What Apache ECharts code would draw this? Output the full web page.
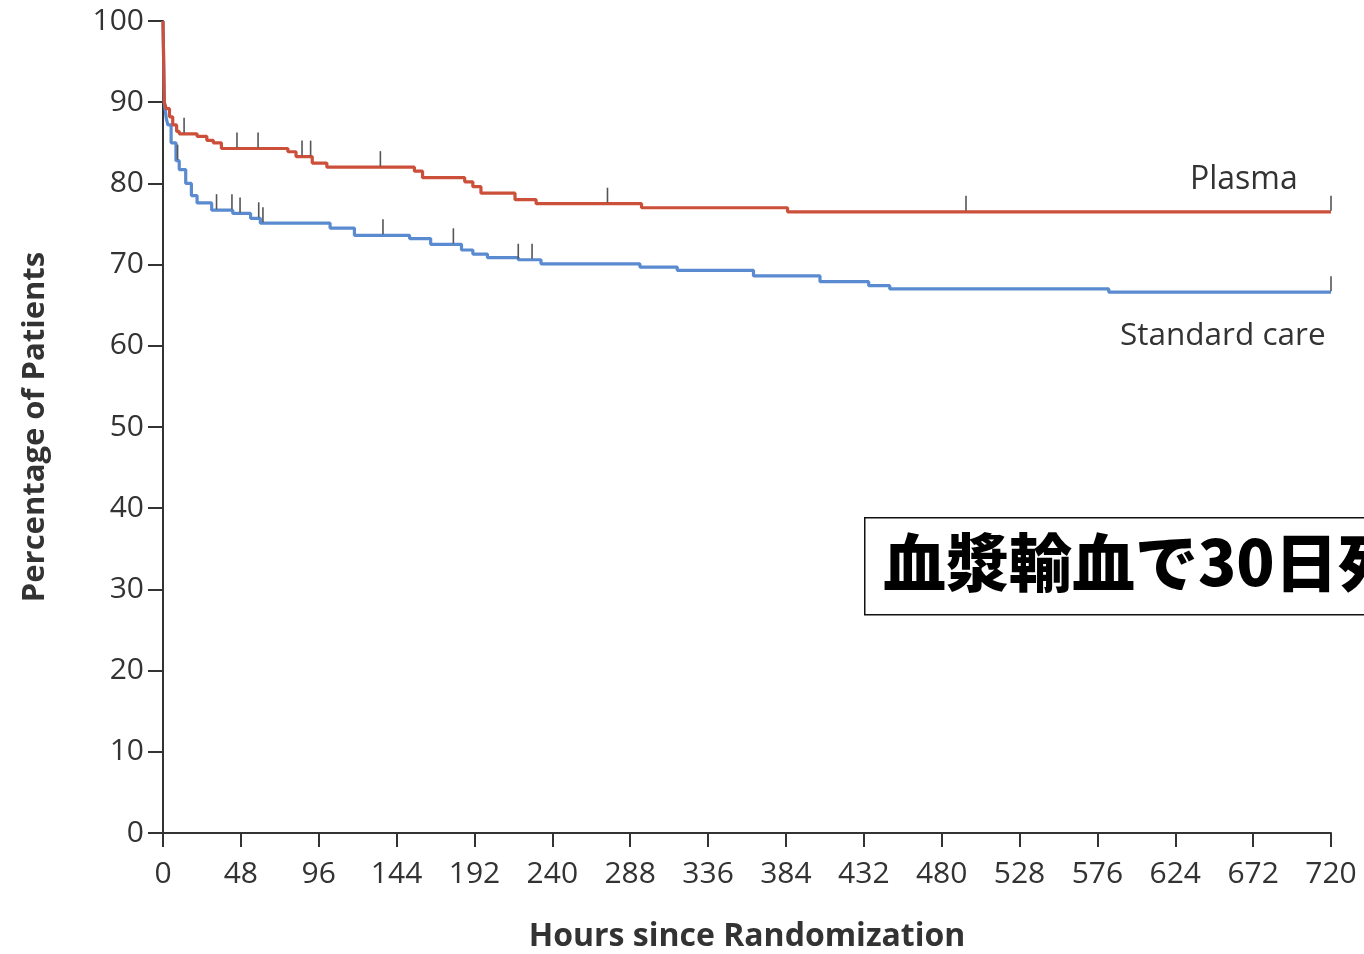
<!DOCTYPE html>
<html><head><meta charset="utf-8">
<script src="https://cdn.jsdelivr.net/npm/echarts@6/dist/echarts.min.js"></script>
<style>html,body{margin:0;padding:0;background:#fff}#c{width:1364px;height:954px}</style>
</head><body><div id="c"></div>
<script>
// ---- data ----
const xTicks = [0,48,96,144,192,240,288,336,384,432,480,528,576,624,672,720];
const yTicks = [0,10,20,30,40,50,60,70,80,90,100];

const plasmaT = [0,0.8,2,4,6,8.4,10,21,27,31,36,77,82,92,101,155,160,186,191,196,217,230,295,385,720];
const plasmaV = [100,90,89.2,88.2,87.2,86.4,86.1,85.8,85.3,85.0,84.3,83.9,83.3,82.5,82.0,81.5,80.7,80.2,79.6,78.8,78.0,77.5,77.0,76.5,76.5];

const standardT = [0,0.8,2,3,5,8,10,14,17.5,21,30,43,54,60,103,118,152,165,184,191,200,219,233,294,317,364,405,435,448,583,720];
const standardV = [100,90,88.0,87.2,85.0,82.8,81.7,80.0,78.5,77.6,76.7,76.3,75.7,75.1,74.5,73.6,73.2,72.5,71.8,71.3,70.85,70.6,70.1,69.7,69.3,68.6,67.9,67.4,67.0,66.6,66.6];

const plasmaCensor = [13,45.6,58.6,85.7,91,134,274,495,720];
const standardCensor = [9,33,42.5,47.5,59,61.6,135.6,179,219,227.5,720];

const seriesNames = ['Plasma','Standard care'];
const xTitle = 'Hours since Randomization';
const yTitle = 'Percentage of Patients';
const boxText = '血漿輸血で30日死亡率が低下';

// ---- helpers ----
function pairs(t, v){ return t.map((x,i)=>[x, v[i]]); }
function stepAt(t, v, x){ let y = v[0]; for (let i=0;i<t.length;i++){ if (t[i] <= x) y = v[i]; } return y; }
function censorData(c, t, v){ return c.map(x => [x, stepAt(t, v, x)]); }

const RED = '#cc4f3a', BLUE = '#5a8bd0', FONT = '"Open Sans", "Noto Sans", sans-serif';

function tickSeries(data){
  return {
    type:'custom', data: data, z: 5, silent: true,
    renderItem: function(params, api){
      const p = api.coord([api.value(0), api.value(1)]);
      return { type:'line', shape:{x1:p[0], y1:p[1]-1, x2:p[0], y2:p[1]-16},
               style:{stroke:'#555', lineWidth:1.6} };
    }
  };
}

const chart = echarts.init(document.getElementById('c'), null, {renderer:'canvas'});
chart.setOption({
  animation:false,
  backgroundColor:'#fff',
  grid:{left:163, right:33, top:21, bottom:121, containLabel:false, outerBoundsMode:'none'},
  xAxis:{
    type:'value', min:0, max:720, interval:48,
    name:xTitle, nameLocation:'middle', nameGap:88,
    nameTextStyle:{fontFamily:FONT, fontWeight:'bold', fontSize:32, color:'#333'},
    axisLine:{show:true, onZero:false, lineStyle:{color:'#333', width:2}},
    axisTick:{show:true, length:14, lineStyle:{color:'#333', width:2}},
    axisLabel:{fontFamily:FONT, fontSize:30, color:'#333', margin:26,
      formatter: v => xTicks.includes(v) ? String(v) : ''},
    splitLine:{show:false}
  },
  yAxis:{
    type:'value', min:0, max:100, interval:10,
    name:yTitle, nameLocation:'middle', nameGap:112, nameRotate:90,
    nameTextStyle:{fontFamily:FONT, fontWeight:'bold', fontSize:31, color:'#333'},
    axisLine:{show:true, lineStyle:{color:'#333', width:2}},
    axisTick:{show:true, length:15, lineStyle:{color:'#333', width:2}},
    axisLabel:{fontFamily:FONT, fontSize:30, color:'#333', margin:19,
      formatter: v => yTicks.includes(v) ? String(v) : ''},
    splitLine:{show:false}
  },
  series:[
    {name:seriesNames[1], type:'line', step:'end', showSymbol:false, symbol:'none',
     data:pairs(standardT, standardV), lineStyle:{color:BLUE, width:3.2}, z:3},
    {name:seriesNames[0], type:'line', step:'end', showSymbol:false, symbol:'none',
     data:pairs(plasmaT, plasmaV), lineStyle:{color:RED, width:3.2}, z:4},
    tickSeries(censorData(plasmaCensor, plasmaT, plasmaV)),
    tickSeries(censorData(standardCensor, standardT, standardV))
  ],
  graphic:[
    {type:'text', left:1190, top:164, style:{text:seriesNames[0], fontFamily:FONT, fontSize:32, fill:'#333'}},
    {type:'text', left:1120, top:320, style:{text:seriesNames[1], fontFamily:FONT, fontSize:31.5, fill:'#333'}},
    {type:'rect', left:864, top:517, shape:{width:560, height:97},
     style:{fill:'#fff', stroke:'#111', lineWidth:1.5}, z:10},
    {type:'text', left:883, top:531, z:11,
     style:{text:boxText, fontFamily:'"Noto Sans CJK JP", sans-serif', fontWeight:900, fontSize:63, fill:'#000'}}
  ]
});
</script></body></html>
